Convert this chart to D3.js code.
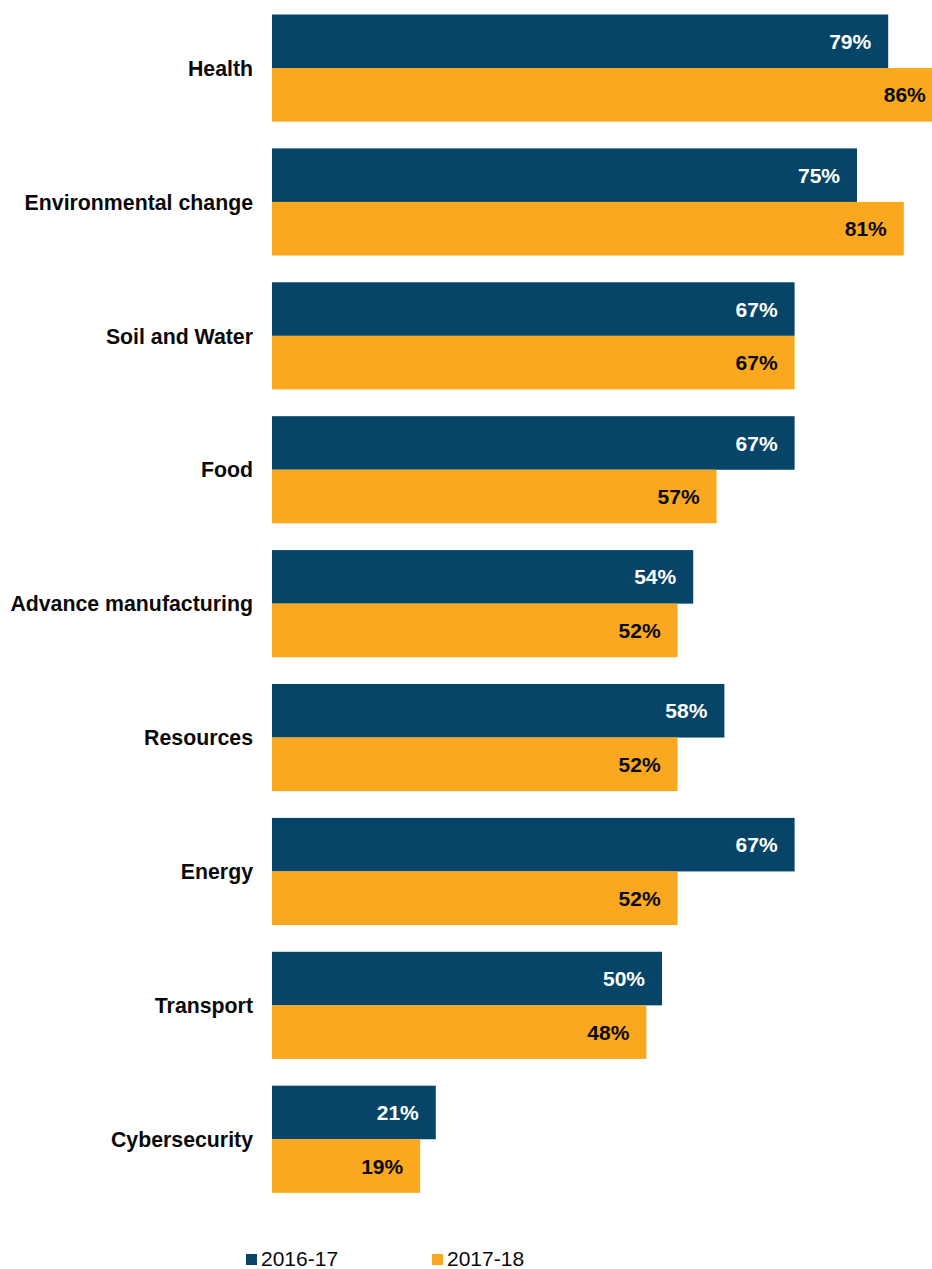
<!DOCTYPE html>
<html>
<head>
<meta charset="utf-8">
<script src="https://cdn.jsdelivr.net/npm/d3@7"></script>
<style>
  html, body { margin: 0; padding: 0; background: #ffffff; }
  svg { display: block; }
  text { font-family: "Liberation Sans", Arial, sans-serif; }
</style>
</head>
<body>
<svg id="chart" width="932" height="1269"></svg>
<script>
// Share of projects by research priority
const categories = [
  "Health", "Environmental change", "Soil and Water", "Food",
  "Advance manufacturing", "Resources", "Energy", "Transport", "Cybersecurity"
];
const seriesNames = ["2016-17", "2017-18"];
const values2016 = [79, 75, 67, 67, 54, 58, 67, 50, 21];
const values2017 = [86, 81, 67, 57, 52, 52, 52, 48, 19];
const seriesColors = ["#064468", "#F9A81F"];
const labelColors = ["#ffffff", "#0a0a0a"];

const svg = d3.select("#chart");

const x = d3.scaleLinear().domain([0, 100]).range([272, 1052]);

const y = d3.scaleBand()
  .domain(categories)
  .range([1.1, 1206.2])
  .paddingInner(0.2)
  .paddingOuter(0.1);

const ySub = d3.scaleBand()
  .domain(seriesNames)
  .range([0, y.bandwidth()])
  .padding(0);

const rows = categories.map((c, i) => ({
  category: c,
  bars: [
    { series: seriesNames[0], value: values2016[i], si: 0 },
    { series: seriesNames[1], value: values2017[i], si: 1 }
  ]
}));

const groups = svg.append("g").selectAll("g")
  .data(rows)
  .join("g")
  .attr("transform", d => `translate(0,${y(d.category)})`);

groups.selectAll("rect")
  .data(d => d.bars)
  .join("rect")
  .attr("x", x(0))
  .attr("y", d => ySub(d.series))
  .attr("width", d => x(d.value) - x(0))
  .attr("height", ySub.bandwidth())
  .attr("fill", d => seriesColors[d.si]);

groups.selectAll("text.val")
  .data(d => d.bars)
  .join("text")
  .attr("class", "val")
  .attr("x", d => x(d.value) - 17)
  .attr("y", d => ySub(d.series) + ySub.bandwidth() / 2)
  .attr("dy", "0.36em")
  .attr("text-anchor", "end")
  .attr("font-size", "21px")
  .attr("font-weight", "bold")
  .attr("fill", d => labelColors[d.si])
  .text(d => d.value + "%");

// Category axis labels
svg.append("g").selectAll("text")
  .data(categories)
  .join("text")
  .attr("x", 253)
  .attr("y", d => y(d) + y.bandwidth() / 2)
  .attr("dy", "0.36em")
  .attr("text-anchor", "end")
  .attr("font-size", "21.3px")
  .attr("font-weight", "bold")
  .attr("fill", "#0a0a0a")
  .text(d => d);

// Legend
const legendX = [246, 432];
const legend = svg.append("g").selectAll("g")
  .data(seriesNames)
  .join("g")
  .attr("transform", (d, i) => `translate(${legendX[i]},1254)`);

legend.append("rect")
  .attr("width", 11)
  .attr("height", 11)
  .attr("fill", (d, i) => seriesColors[i]);

legend.append("text")
  .attr("x", 15)
  .attr("y", 11.5)
  .attr("font-size", "21px")
  .attr("fill", "#0a0a0a")
  .text(d => d);
</script>
</body>
</html>
